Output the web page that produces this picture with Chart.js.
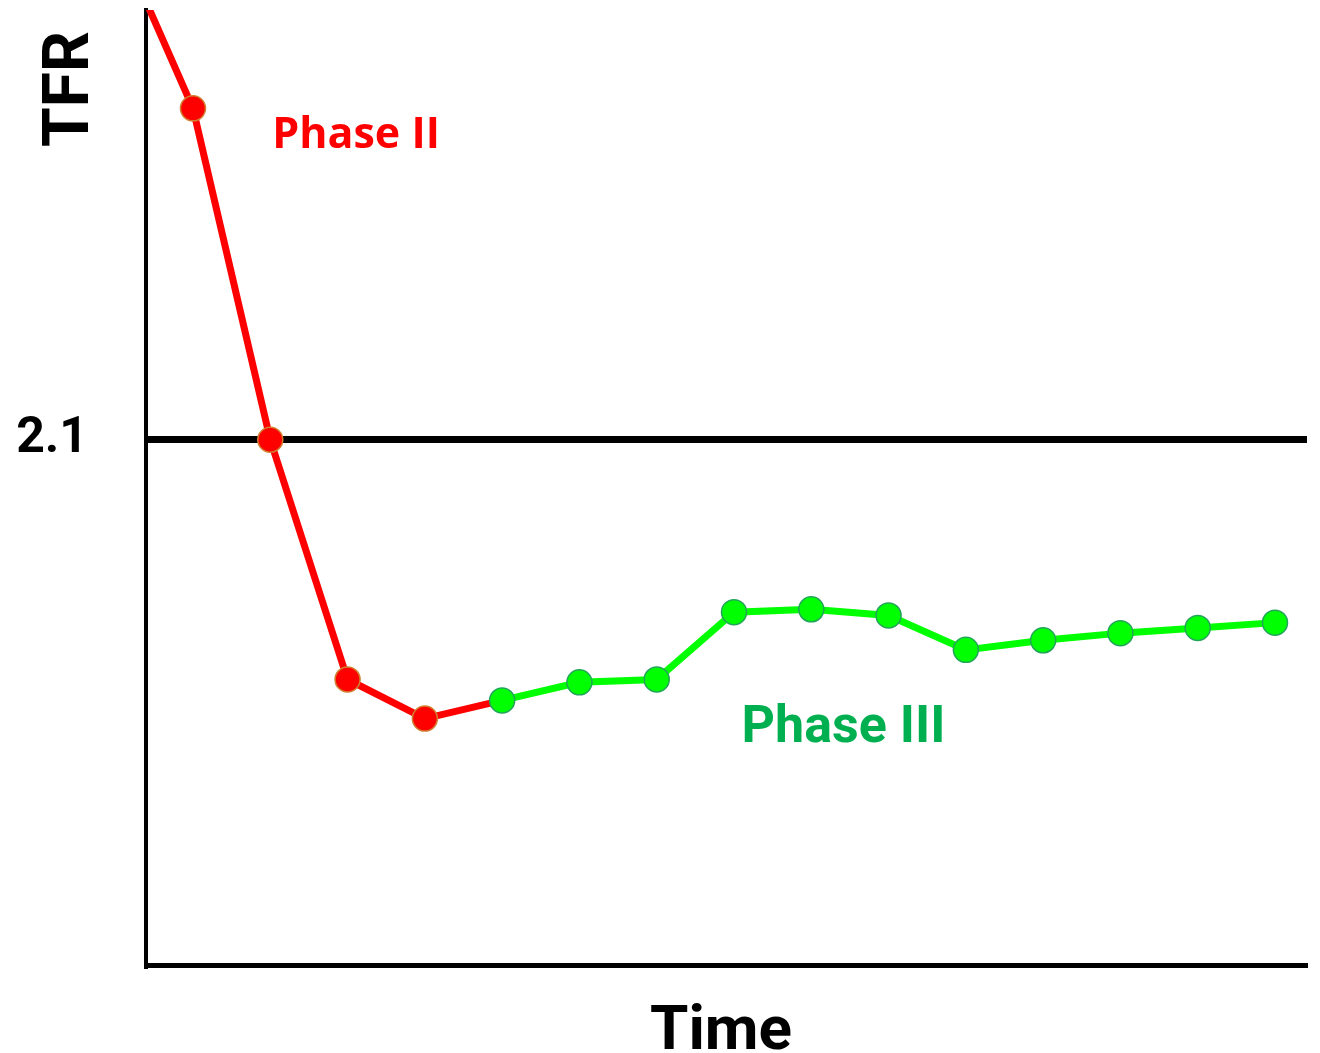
<!DOCTYPE html>
<html>
<head>
<meta charset="utf-8">
<script src="https://cdn.jsdelivr.net/npm/chart.js@4.4.1/dist/chart.umd.min.js"></script>
<style>
  html, body { margin: 0; padding: 0; background: #ffffff; }
  #wrap { width: 1320px; height: 1053px; }
</style>
</head>
<body>
<div id="wrap"><canvas id="c" width="1320" height="1053"></canvas></div>
<script>
// ---- data ----
const phaseIITime = [0, 1, 2, 3, 4, 5];
const phaseIITFR  = [3.162, 2.794, 2.1, 1.598, 1.516, 1.554];
const phaseIIITime = [5, 6, 7, 8, 9, 10, 11, 12, 13, 14, 15];
const phaseIIITFR  = [1.554, 1.592, 1.598, 1.739, 1.745, 1.732, 1.660, 1.680, 1.695, 1.706, 1.717];
const yTickValues = [2.1];
const yTickLabels = ['2.1'];
const xAxisTitle = 'Time';
const yAxisTitle = 'TFR';
const phaseLabels = ['Phase II', 'Phase III'];

const toPoints = (xs, ys) => xs.map((x, i) => ({ x: x, y: ys[i] }));

const labelPlugin = {
  id: 'labels',
  afterDraw(chart) {
    const ctx = chart.ctx;
    const xs = chart.scales.x, ys = chart.scales.y;
    ctx.save();
    ctx.textAlign = 'center';
    ctx.textBaseline = 'alphabetic';
    // Phase II
    ctx.fillStyle = '#ff0000';
    ctx.font = 'bold 43px "Open Sans"';
    ctx.fillText(phaseLabels[0], xs.getPixelForValue(3.11), ys.getPixelForValue(2.711));
    // Phase III
    ctx.fillStyle = '#00b050';
    ctx.font = 'bold 52px Roboto';
    ctx.fillText(phaseLabels[1], xs.getPixelForValue(9.416), ys.getPixelForValue(1.4664));
    // axis titles
    ctx.fillStyle = '#000000';
    ctx.font = 'bold 62px Roboto';
    ctx.fillText(xAxisTitle, 721, 1049);
    ctx.translate(88, 89);
    ctx.rotate(-Math.PI / 2);
    ctx.font = 'bold 64px Roboto';
    ctx.fillText(yAxisTitle, 0, 0);
    ctx.restore();
  }
};

new Chart(document.getElementById('c'), {
  type: 'line',
  data: {
    datasets: [
      {
        label: phaseLabels[1],
        data: toPoints(phaseIIITime, phaseIIITFR),
        borderColor: '#00ff00',
        borderWidth: 7,
        backgroundColor: '#00ff00',
        pointBackgroundColor: '#00ff00',
        pointBorderColor: '#22a55a',
        pointBorderWidth: 1.5,
        pointRadius: 12.5,
        tension: 0
      },
      {
        label: phaseLabels[0],
        data: toPoints(phaseIITime, phaseIITFR),
        borderColor: '#ff0000',
        borderWidth: 7,
        backgroundColor: '#ff0000',
        pointBackgroundColor: '#ff0000',
        pointBorderColor: '#d08030',
        pointBorderWidth: 1.5,
        pointRadius: [0, 12.5, 12.5, 12.5, 12.5, 0],
        tension: 0
      }
    ]
  },
  options: {
    responsive: false,
    animation: false,
    layout: { autoPadding: false, padding: { top: 10, right: 13, left: 0, bottom: 0 } },
    plugins: { legend: { display: false }, tooltip: { enabled: false } },
    scales: {
      x: {
        type: 'linear',
        min: 0.392,
        max: 15.414,
        afterFit: (s) => { s.height = 88; s.paddingLeft = 0; s.paddingRight = 0; s.paddingTop = 0; s.paddingBottom = 0; },
        ticks: { display: false },
        grid: { display: false },
        border: { display: true, color: '#000000', width: 5 }
      },
      y: {
        type: 'linear',
        min: 1.0,
        max: 3.0,
        afterFit: (s) => { s.width = 146; s.paddingTop = 0; s.paddingBottom = 0; s.paddingLeft = 0; s.paddingRight = 0; },
        afterBuildTicks: (s) => { s.ticks = yTickValues.map(v => ({ value: v })); },
        ticks: {
          callback: (v) => yTickLabels[yTickValues.indexOf(v)] ?? '',
          color: '#000000',
          font: { family: 'Roboto', weight: 'bold', size: 50 },
          padding: 58
        },
        grid: { display: true, color: '#000000', lineWidth: 7, drawTicks: false },
        border: { display: true, color: '#000000', width: 4 }
      }
    }
  },
  plugins: [labelPlugin]
});
</script>
</body>
</html>
